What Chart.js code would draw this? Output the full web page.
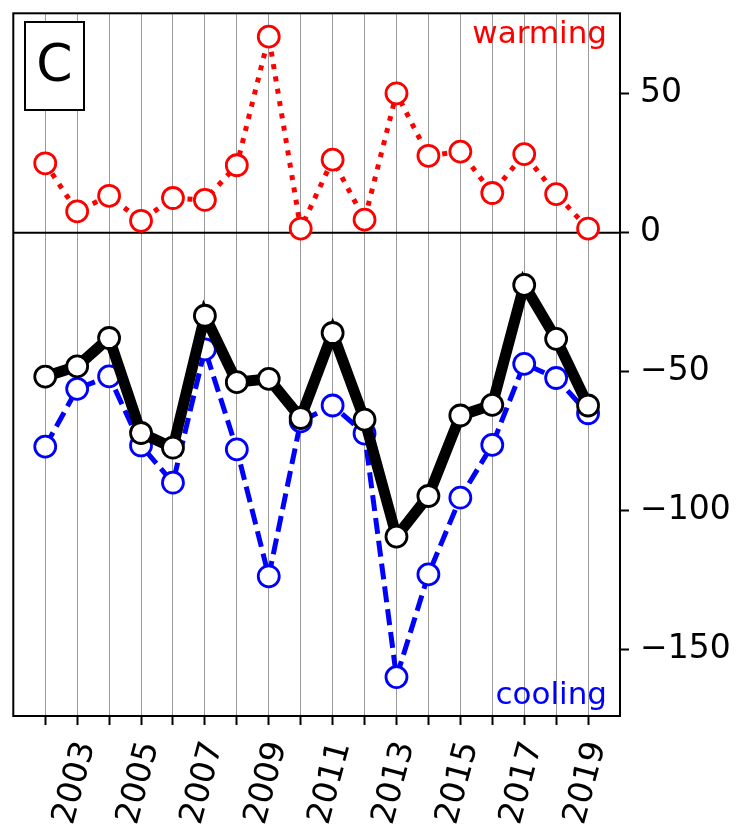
<!DOCTYPE html>
<html>
<head>
<meta charset="utf-8">
<script src="https://cdn.jsdelivr.net/npm/chart.js@4"></script>
<style>
  html, body { margin: 0; padding: 0; background: #ffffff; }
  #wrap { width: 738px; height: 827px; }
</style>
</head>
<body>
<div id="wrap"><canvas id="chart" width="738" height="827"></canvas></div>
<script>
/* --------------- Data  --------------------- */
const years = [2002, 2003, 2004, 2005, 2006, 2007, 2008, 2009, 2010,
               2011, 2012, 2013, 2014, 2015, 2016, 2017, 2018, 2019];
const warming = [25, 7.7, 13.3, 4.3, 12.5, 11.8, 24.3, 70.6, 1.5,
                 26.3, 4.7, 50.2, 27.7, 29.2, 14.3, 28.3, 13.9, 1.5];
const cooling = [-77, -56.2, -51.7, -76.6, -90, -42, -78, -123.7, -67.9,
                 -62.2, -72.3, -160, -123, -95.4, -76.4, -47.2, -52.3, -65];
const net = [-51.8, -48.1, -37.9, -72.1, -77.4, -29.9, -53.8, -52.6, -66.7,
             -36.1, -67.3, -109.4, -94.8, -65.8, -62, -18.8, -38.2, -62.2];
const xLabels = [2003, 2005, 2007, 2009, 2011, 2013, 2015, 2017, 2019];
const yTicks = [-150, -100, -50, 0, 50];

const FONT = "'DejaVu Sans', sans-serif";

const toPoints = (vals) => vals.map((v, i) => ({ x: years[i], y: v }));

/* --------------- Extras: frame, zero line, panel tag, texts --------------------- */
const decor = {
  id: "decor",
  beforeDatasetsDraw(chart) {
    const { ctx, chartArea: a, scales } = chart;
    const y0 = scales.y.getPixelForValue(0);
    ctx.save();
    ctx.strokeStyle = "#000";
    ctx.lineWidth = 2;
    ctx.beginPath();
    ctx.moveTo(a.left, y0);
    ctx.lineTo(a.right, y0);
    ctx.stroke();
    ctx.restore();
  },
  afterDraw(chart) {
    const { ctx, chartArea: a, scales } = chart;
    ctx.save();
    // frame
    ctx.strokeStyle = "#000";
    ctx.lineWidth = 2;
    ctx.strokeRect(a.left, a.top, a.right - a.left, a.bottom - a.top);

    // panel tag
    ctx.fillStyle = "#fff";
    ctx.fillRect(25, 22, 59, 88);
    ctx.strokeRect(25, 22, 59, 88);
    ctx.fillStyle = "#000";
    ctx.font = "52px " + FONT;
    ctx.textAlign = "center";
    ctx.textBaseline = "middle";
    ctx.fillText("C", 54.5, 67);

    // series names
    ctx.font = "31px " + FONT;
    ctx.textAlign = "right";
    ctx.textBaseline = "alphabetic";
    ctx.fillStyle = "#ff0000";
    ctx.fillText("warming", a.right - 13, 43);
    ctx.fillStyle = "#0000ff";
    ctx.fillText("cooling", a.right - 13, 704);

    // rotated year labels
    ctx.fillStyle = "#000";
    ctx.font = "33px " + FONT;
    ctx.textAlign = "center";
    ctx.textBaseline = "middle";
    for (const yr of xLabels) {
      const px = scales.x.getPixelForValue(yr);
      ctx.save();
      ctx.translate(px - 2, 783);
      ctx.rotate(-75 * Math.PI / 180);
      ctx.fillText(String(yr), 0, 0);
      ctx.restore();
    }
    ctx.restore();
  },
};

/* --------------- Chart --------------------- */
let chart = new Chart(document.getElementById("chart"), {
  type: "line",
  plugins: [decor],
  data: {
    datasets: [
      {
        label: "net",
        data: toPoints(net),
        order: 1,
        borderColor: "#000000",
        borderWidth: 11,
        pointRadius: 10.5,
        pointBorderWidth: 2.8,
        pointBorderColor: "#000000",
        pointBackgroundColor: "#ffffff",
        tension: 0,
      },
      {
        label: "cooling",
        data: toPoints(cooling),
        order: 2,
        borderColor: "#0000ff",
        borderWidth: 5,
        borderDash: [16, 7],
        pointRadius: 10.5,
        pointBorderWidth: 2.8,
        pointBorderColor: "#0000ff",
        pointBackgroundColor: "#ffffff",
        tension: 0,
      },
      {
        label: "warming",
        data: toPoints(warming),
        order: 3,
        borderColor: "#ff0000",
        borderWidth: 5,
        borderDash: [5, 7.5],
        pointRadius: 10.5,
        pointBorderWidth: 2.8,
        pointBorderColor: "#ff0000",
        pointBackgroundColor: "#ffffff",
        tension: 0,
      },
    ],
  },
  options: {
    responsive: false,
    animation: false,
    layout: { padding: { left: 11, top: 12, right: 0, bottom: 0 } },
    plugins: {
      legend: { display: false },
      tooltip: { enabled: false },
    },
    scales: {
      x: {
        type: "linear",
        min: 2001,
        max: 2020,
        afterBuildTicks: (s) => { s.ticks = years.map((v) => ({ value: v })); },
        afterFit: (s) => { s.height = 111; s.paddingLeft = 0; s.paddingRight = 0; },
        ticks: { display: false },
        border: { display: false },
        grid: {
          color: "#9a9a9a",
          lineWidth: 1,
          drawTicks: true,
          tickLength: 9,
          tickWidth: 2,
          tickColor: "#000000",
        },
      },
      y: {
        position: "right",
        min: -174,
        max: 79,
        afterBuildTicks: (s) => { s.ticks = yTicks.map((v) => ({ value: v })); },
        afterFit: (s) => { s.width = 118; s.paddingTop = 0; s.paddingBottom = 0; },
        border: { display: false },
        grid: {
          drawOnChartArea: false,
          drawTicks: true,
          tickLength: 9,
          tickWidth: 2,
          tickColor: "#000000",
        },
        ticks: {
          color: "#000000",
          padding: 11,
          font: { family: FONT, size: 33 },
          callback: (v) => (v < 0 ? "\u2212" + Math.abs(v) : String(v)),
        },
      },
    },
  },
});
</script>
</body>
</html>
